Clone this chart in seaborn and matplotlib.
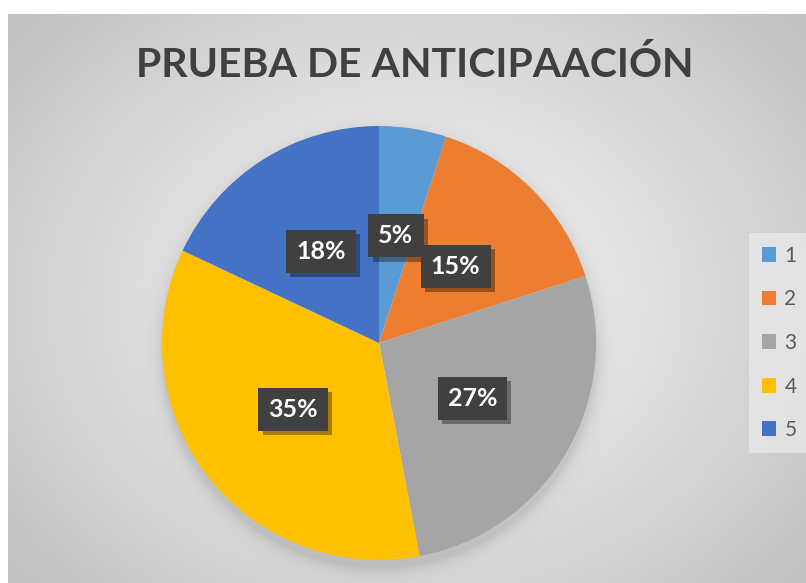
import numpy as np
import matplotlib
matplotlib.use("Agg")
import matplotlib.pyplot as plt
import matplotlib.patheffects as pe
import seaborn as sns

# data
categories = ["1", "2", "3", "4", "5"]
values = [5, 15, 27, 35, 18]
colors = ["#5B9BD5", "#ED7D31", "#A5A5A5", "#FFC000", "#4472C4"]
title = "PRUEBA DE ANTICIPAACIÓN"

sns.set_theme(style="white")
plt.rcParams["font.family"] = ["Lato", "DejaVu Sans"]

W, H = 806, 583
fig = plt.figure(figsize=(W / 100, H / 100), dpi=100)
fig.patch.set_facecolor("white")

# radial gradient background of the chart area, with a soft shadow under the pie
x0, y0 = 8, 14
yy, xx = np.mgrid[y0:H, x0:W].astype(float)
cx, cy = 410, 300
d = np.sqrt(((xx - cx) / 520) ** 2 + ((yy - cy) / 420) ** 2)
bg = 0.95 - 0.19 * np.clip(d, 0, 1) ** 1.3
pcx, pcy, pr = 379, 343, 217
ds = np.sqrt((xx - pcx) ** 2 + (yy - (pcy + 7)) ** 2) - pr
shadow = 0.10 * np.exp(-np.clip(ds, 0, None) / 7) * (ds > -30)
bg = bg - shadow
img = np.dstack([bg, bg, bg])
bax = fig.add_axes([x0 / W, 0, (W - x0) / W, (H - y0) / H])
bax.imshow(img, aspect="auto", interpolation="bilinear")
bax.set_axis_off()

# pie
ax = fig.add_axes([(pcx - pr) / W, (H - pcy - pr) / H, 2 * pr / W, 2 * pr / H])
wedges, texts, autotexts = ax.pie(
    values, colors=colors, startangle=90, counterclock=False,
    autopct="%1.0f%%", pctdistance=0.5, radius=1,
    wedgeprops=dict(linewidth=0),
)
ax.set_xlim(-1, 1)
ax.set_ylim(-1, 1)
ax.set_axis_off()

for t in autotexts:
    t.set_color("white")
    t.set_fontsize(18)
    t.set_fontweight("bold")
    t.set_bbox(dict(boxstyle="square,pad=0.4", facecolor="#404040", edgecolor="none"))
    t.get_bbox_patch().set_path_effects([
        pe.SimplePatchShadow(offset=(3, -3), shadow_rgbFace="black", alpha=0.35),
        pe.Normal(),
    ])

fig.text(0.514, 1 - 65 / H, title, ha="center", va="center",
         fontsize=29.5, fontweight="bold", color="#404040")

leg = fig.legend(
    wedges, categories, loc="center left",
    bbox_to_anchor=(749 / W, (H - 343) / H),
    frameon=True, fancybox=False, fontsize=15,
    handlelength=0.7, handleheight=0.7, handletextpad=0.4,
    labelspacing=1.13, borderpad=0.6, borderaxespad=0,
)
leg.get_frame().set_facecolor("#e8e8e8")
leg.get_frame().set_edgecolor("none")
leg.get_frame().set_alpha(0.8)
for t in leg.get_texts():
    t.set_color("#595959")

fig.savefig("out.png", dpi=100)
